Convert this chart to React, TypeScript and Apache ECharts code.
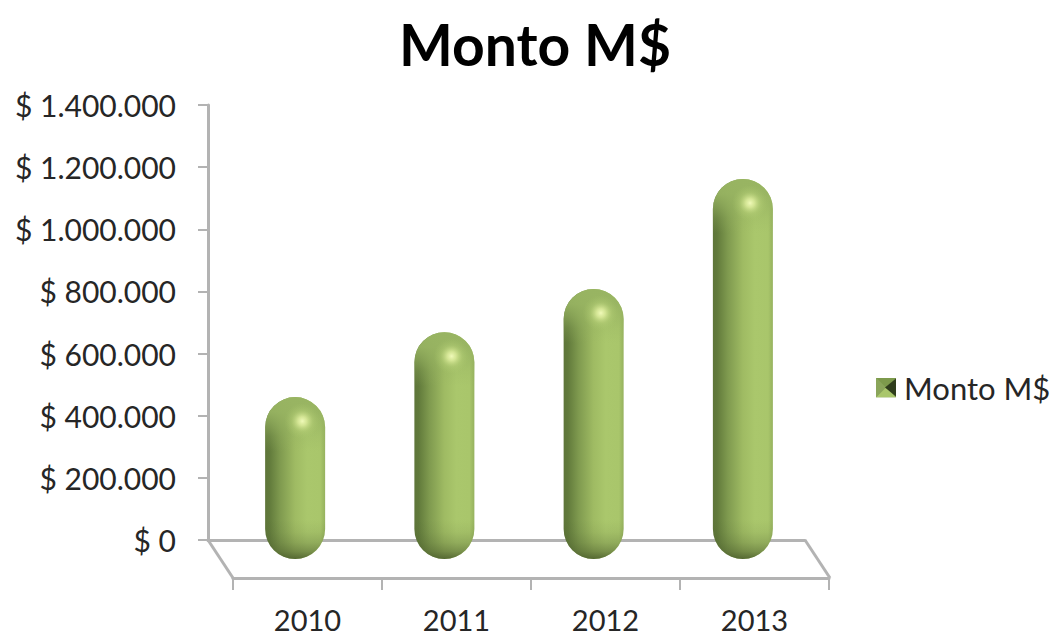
import React, { useEffect, useRef } from "react";
import * as echarts from "echarts";

const categories = ["2010", "2011", "2012", "2013"];
const seriesName = "Monto M$";
const values = [521000, 730000, 869000, 1223000];
const yMax = 1400000;
const yStep = 200000;

const swatch =
  "data:image/svg+xml;utf8," +
  encodeURIComponent(
    '<svg xmlns="http://www.w3.org/2000/svg" width="20" height="20">' +
      '<rect width="20" height="20" fill="#7f9a50"/>' +
      '<polygon points="0,0 20,0 10,10" fill="#7d9a4c"/>' +
      '<polygon points="0,0 0,20 10,10" fill="#8aa55a"/>' +
      '<polygon points="0,20 20,20 10,10" fill="#a9c66b"/>' +
      '<polygon points="20,1 20,19 9,10" fill="#2f3d1c"/>' +
      "</svg>"
  );

const AXIS = "#b3b3b3";
const TEXT = "#262626";
const FONT = "Lato";

function renderPill(params: any, api: any) {
  const idx = api.value(0);
  const top = api.coord([idx, api.value(1)]);
  const base = api.coord([idx, 0]);
  const w = 60;
  const x = top[0] - w / 2;
  const y = top[1];
  const h = base[1] - top[1];
  const r = w / 2;
  const c = r / h;
  const shape = { x, y, width: w, height: h, r };
  const topTint = (a: number) => `rgba(152,180,98,${a})`;
  const botTint = (a: number) => `rgba(72,90,42,${a})`;
  return {
    type: "group",
    children: [
      {
        type: "rect",
        shape,
        style: {
          fill: new echarts.graphic.LinearGradient(0, 0, 1, 0, [
            { offset: 0, color: "#5e7539" },
            { offset: 0.07, color: "#617a3b" },
            { offset: 0.25, color: "#7f9a4f" },
            { offset: 0.5, color: "#9fbb63" },
            { offset: 0.7, color: "#aac76c" },
            { offset: 0.92, color: "#a9c66b" },
            { offset: 1, color: "#96b25e" },
          ]),
        },
      },
      {
        type: "rect",
        shape,
        style: {
          fill: new echarts.graphic.LinearGradient(0, 0, 0, 1, [
            { offset: 0, color: topTint(1) },
            { offset: c * 0.5, color: topTint(0.92) },
            { offset: c * 0.9, color: topTint(0.6) },
            { offset: c * 1.3, color: topTint(0.25) },
            { offset: c * 1.8, color: topTint(0) },
            { offset: 1 - c * 1.3, color: botTint(0) },
            { offset: 1 - c * 0.9, color: botTint(0.08) },
            { offset: 1 - c * 0.55, color: botTint(0.25) },
            { offset: 1 - c * 0.25, color: botTint(0.5) },
            { offset: 1, color: botTint(0.85) },
          ]),
        },
      },
      {
        type: "circle",
        shape: { cx: x + w * 0.62, cy: y + 24, r: 18 },
        style: {
          fill: new echarts.graphic.RadialGradient(0.5, 0.5, 0.5, [
            { offset: 0, color: "rgba(240,250,185,1)" },
            { offset: 0.25, color: "rgba(225,240,160,0.8)" },
            { offset: 0.6, color: "rgba(190,215,125,0.35)" },
            { offset: 1, color: "rgba(170,199,108,0)" },
          ]),
        },
      },
    ],
  };
}

export default function App() {
  const ref = useRef<HTMLDivElement>(null);
  useEffect(() => {
    const chart = echarts.init(ref.current!, undefined, { renderer: "svg" });
    const axisLine = { show: true, lineStyle: { color: AXIS, width: 3 } };
    const sideLine = (x1: number, x2: number) => ({
      type: "line",
      z: 1,
      shape: { x1, y1: 540, x2, y2: 578 },
      style: { stroke: AXIS, lineWidth: 3 },
    });
    chart.setOption({
      animation: false,
      backgroundColor: "#ffffff",
      title: {
        text: seriesName,
        left: 535,
        top: 15,
        padding: 0,
        textAlign: "center",
        textStyle: { fontFamily: FONT, fontSize: 57, fontWeight: "bold", color: "#000000" },
      },
      legend: {
        left: 876,
        top: 372,
        padding: 0,
        itemWidth: 20,
        itemHeight: 20,
        itemGap: 0,
        icon: "image://" + swatch,
        data: [seriesName],
        textStyle: { fontFamily: FONT, fontSize: 31, color: TEXT, padding: [0, 0, 0, 3] },
      },
      grid: [
        { left: 208, top: 105, width: 597, height: 435 },
        { left: 233, top: 105, width: 596, height: 473 },
        { left: 220.5, top: 124, width: 597, height: 435 },
      ],
      xAxis: [
        {
          gridIndex: 0,
          type: "category",
          data: categories,
          axisLine,
          axisTick: { show: false },
          axisLabel: { show: false },
        },
        {
          gridIndex: 1,
          type: "category",
          data: categories,
          axisLine,
          axisTick: { show: true, length: 12, lineStyle: { color: AXIS, width: 2 } },
          axisLabel: { fontFamily: FONT, fontSize: 29, lineHeight: 24, color: TEXT, margin: 29 },
        },
        { gridIndex: 2, type: "category", data: categories, show: false },
      ],
      yAxis: [
        {
          gridIndex: 0,
          type: "value",
          min: 0,
          max: yMax,
          interval: yStep,
          axisLine,
          axisTick: { show: true, length: 10, lineStyle: { color: AXIS, width: 2 } },
          splitLine: { show: false },
          axisLabel: {
            fontFamily: FONT,
            fontSize: 30,
            color: TEXT,
            margin: 32,
            padding: [8, 0, 0, 0],
            formatter: (v: number) =>
              "$ " + String(v).replace(/\B(?=(\d{3})+$)/g, "."),
          },
        },
        { gridIndex: 1, type: "value", show: false, min: 0, max: yMax },
        { gridIndex: 2, type: "value", show: false, min: 0, max: yMax },
      ],
      graphic: [sideLine(208, 233), sideLine(805, 830)],
      series: [
        {
          name: seriesName,
          type: "custom",
          xAxisIndex: 2,
          yAxisIndex: 2,
          z: 5,
          clip: false,
          renderItem: renderPill,
          encode: { x: 0, y: 1 },
          data: values.map((v, i) => [i, v]),
        },
      ],
    });
    return () => chart.dispose();
  }, []);
  return (
    <div
      ref={ref}
      style={{ position: "fixed", left: 0, top: 0, width: 1052, height: 636 }}
    />
  );
}
